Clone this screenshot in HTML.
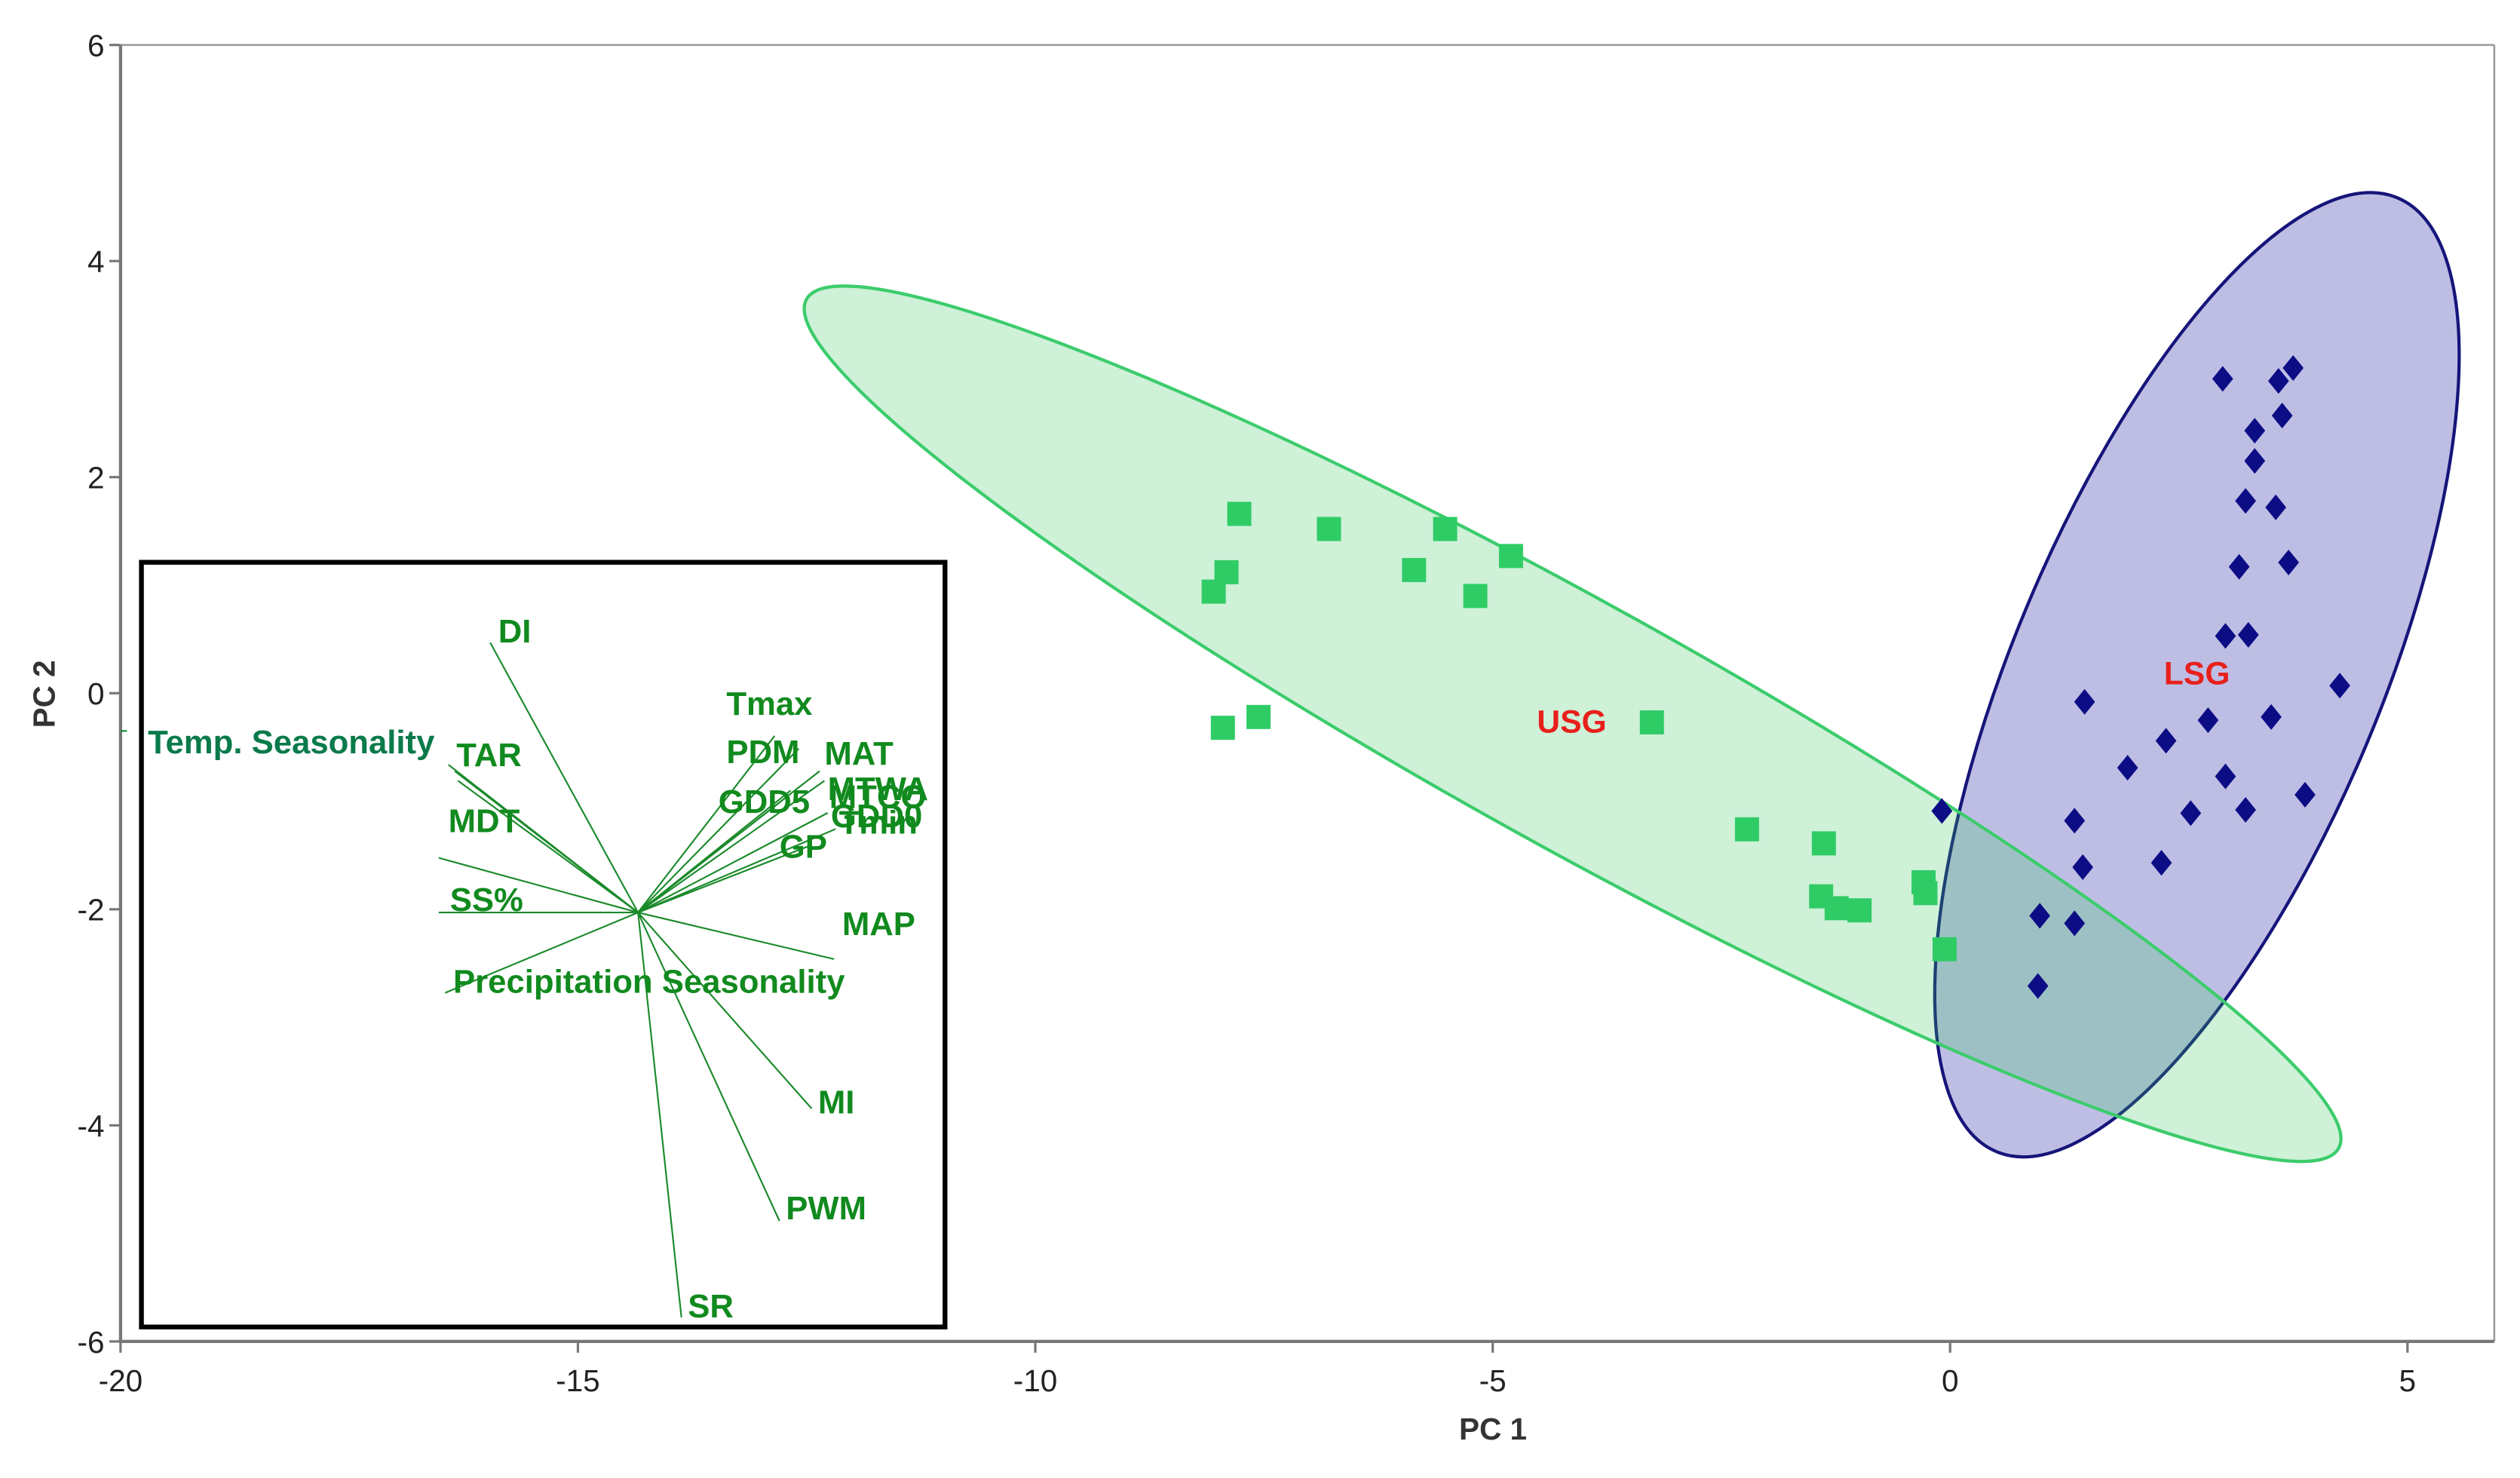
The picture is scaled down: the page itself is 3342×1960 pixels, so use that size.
<!DOCTYPE html>
<html><head><meta charset="utf-8"><style>
html,body{margin:0;padding:0;background:#fff;}
svg{display:block;font-family:"Liberation Sans",sans-serif;}
</style></head><body>
<svg id="chart" width="3342" height="1960" viewBox="0 0 1568 920" preserveAspectRatio="none" xmlns="http://www.w3.org/2000/svg">
<rect x="0" y="0" width="1568" height="920" fill="#fff"/>
<g id="frame">
<line x1="75" y1="28" x2="1552" y2="28" stroke="#999" stroke-width="1.2"/>
<line x1="1552" y1="28" x2="1552" y2="835" stroke="#999" stroke-width="1.2"/>
<line x1="75" y1="28" x2="75" y2="835" stroke="#777" stroke-width="2"/>
<line x1="75" y1="835" x2="1552" y2="835" stroke="#777" stroke-width="2"/>
</g>
<g id="ticks"></g>
<g id="ellipses"></g>
<g id="points"></g>
<text x="978" y="456" fill="#e8201c" font-size="20" font-weight="bold" text-anchor="middle">USG</text>
<text x="1367" y="426" fill="#e8201c" font-size="20" font-weight="bold" text-anchor="middle">LSG</text>
<text x="929" y="896" font-size="19" font-weight="bold" fill="#333" text-anchor="middle">PC 1</text>
<text x="0" y="0" font-size="19" font-weight="bold" fill="#333" text-anchor="middle" transform="translate(34,432) rotate(-90)">PC 2</text>
<g id="inset">
<rect x="88" y="350" width="500" height="476" fill="#fff" stroke="#000" stroke-width="3"/>
<line x1="75" y1="455" x2="79" y2="455" stroke="#0a8a3a" stroke-width="1"/>
<g id="vectors"></g>
</g>
</svg>
<script>
const xTicks=[-20,-15,-10,-5,0,5];
const yTicks=[6,4,2,0,-2,-4,-6];
const usgX=[-7.77,-6.79,-5.52,-5.86,-4.80,-5.19,-7.91,-8.05,-7.56,-7.95,-3.26,-2.22,-1.38,-1.41,-1.24,-0.99,-0.29,-0.27,-0.06];
const usgY=[1.66,1.52,1.52,1.14,1.27,0.90,1.12,0.94,-0.22,-0.32,-0.27,-1.26,-1.39,-1.88,-1.99,-2.01,-1.75,-1.85,-2.37];
const lsgX=[2.98,3.59,3.75,3.63,3.33,3.33,3.23,3.56,3.16,3.70,3.01,3.26,4.26,1.47,2.82,3.51,2.36,1.94,3.01,2.63,3.23,3.88,-0.09,1.36,1.45,2.31,0.98,1.36,0.96];
const lsgY=[2.91,2.89,3.01,2.57,2.43,2.15,1.78,1.72,1.17,1.21,0.53,0.54,0.07,-0.08,-0.25,-0.22,-0.44,-0.69,-0.77,-1.11,-1.08,-0.94,-1.09,-1.18,-1.61,-1.57,-2.06,-2.13,-2.71];
const loadNames=["DI","Temp. Seasonality","TAR","MDT","SS% a","SS%","Precipitation Seasonality","MAP","MI","PWM","SR","PDM","MAT","MTWA","MTCO","GDD5","GDD0","Tmin","GP","Tmax"];
const loadDX=[-92,-118,-114,-112,-124,-124,-120,122,108,88,27,85,100,113,116,90,118,123,108,95];
const loadDY=[-168,-92,-88,-82,-34,0,50,29,122,192,252,-110,-102,-88,-82,-70,-62,-52,-42,-76];
const NS="http://www.w3.org/2000/svg";
function X(v){return 75+(v+20)*56.92;}
function Y(v){return 28+(6-v)*67.25;}
function mk(tag,attrs,parent){const e=document.createElementNS(NS,tag);for(const k in attrs)e.setAttribute(k,attrs[k]);parent.appendChild(e);return e;}
const tk=document.getElementById('ticks');
xTicks.forEach(v=>{
  const l=mk('line',{x1:X(v),x2:X(v),y1:835,y2:842,stroke:'#777','stroke-width':1.5},tk);
  
  
  const t=mk('text',{x:X(v),y:866,'font-size':19,fill:'#222','text-anchor':'middle'},tk);
  t.textContent=v;
  
  
});
yTicks.forEach(v=>{
  const l=mk('line',{x1:68,x2:75,y1:Y(v),y2:Y(v),stroke:'#777','stroke-width':1.5},tk);
  
  
  const t=mk('text',{x:65,y:Y(v)+7,'font-size':19,fill:'#222','text-anchor':'end'},tk);
  t.textContent=v;
  
  
});
const eg=document.getElementById('ellipses');
const eb=mk('ellipse',{cx:1367,cy:420,rx:322,ry:114,transform:'rotate(-67.2 1367 420)',fill:'rgba(40,40,170,0.3)',stroke:'#15157a','stroke-width':2},eg);


const eG=mk('ellipse',{cx:978.5,cy:450.5,rx:545,ry:76,transform:'rotate(29 978.5 450.5)',fill:'rgba(60,200,100,0.25)',stroke:'#3ccc6c','stroke-width':2},eg);


const pg=document.getElementById('points');
usgX.forEach((v,i)=>{
  const r=mk('rect',{x:X(v)-7.5,y:Y(usgY[i])-7.5,width:15,height:15,fill:'#2fcc66'},pg);
  
  
});
lsgX.forEach((v,i)=>{
  const cx=X(v),cy=Y(lsgY[i]);
  const p=mk('polygon',{points:`${cx},${cy-8} ${cx+6.5},${cy} ${cx},${cy+8} ${cx-6.5},${cy}`,fill:'#0c0c85'},pg);
  
  
});
const vg=document.getElementById('vectors');
const cx0=397,cy0=568;
loadNames.forEach((n,i)=>{
  const l=mk('line',{x1:cx0,y1:cy0,x2:cx0+loadDX[i],y2:cy0+loadDY[i],stroke:'#1a8a2a','stroke-width':1},vg);
  
  
});
const labels=[["DI",310,400],["Temp. Seasonality",92,469,"#0a7a4a"],["TAR",284,477],["MDT",279,518],["SS%",280,567],["Precipitation Seasonality",282,618],["Tmax",452,445],["PDM",452,475],["MAT",513,476],["GDD5",447,506],["MTWA",515,498],["MTCO",516,503],["GDD0",517,515],["Tmin",522,519],["GP",485,534],["MAP",524,582],["MI",509,693],["PWM",489,759],["SR",428,820]];
labels.forEach(a=>{
  const t=mk('text',{x:a[1],y:a[2],'font-size':20.5,'font-weight':'bold',fill:a[3]||'#118a1e'},vg);
  t.textContent=a[0];
  
  
});
</script>
</body></html>
